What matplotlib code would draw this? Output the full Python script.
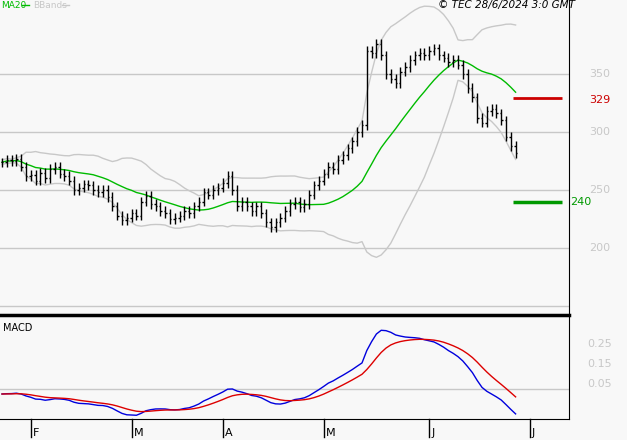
import numpy as np
import pandas as pd
import matplotlib
matplotlib.use("Agg")
import matplotlib.pyplot as plt

closes_jan = [274, 276, 275, 277, 270, 262]
closes_feb = [263, 258, 265, 260, 268, 270, 264, 262, 258, 250, 252, 255, 254, 250, 248, 250, 244, 236, 228, 224, 226]
closes_mar = [230, 228, 240, 245, 238, 236, 232, 230, 225, 226, 228, 232, 230, 236, 240, 248, 246, 250, 252]
closes_apr = [256, 262, 250, 236, 240, 236, 232, 236, 230, 222, 218, 222, 226, 232, 238, 240, 235, 238, 246, 254, 258]
closes_may = [264, 270, 268, 276, 280, 286, 292, 300, 306, 370, 368, 376, 366, 350, 346, 342, 352, 356, 362, 366, 368, 366]
closes_jun = [370, 372, 366, 364, 360, 362, 358, 350, 338, 330, 312, 308, 318, 320, 316, 310, 296, 288, 282]
month_labels = ["F", "M", "A", "M", "J", "J"]
price_ticks = [350, 300, 250, 200]
macd_ticks = [0.25, 0.15, 0.05]
resistance = 329
support = 240

closes = np.array(closes_jan + closes_feb + closes_mar + closes_apr + closes_may + closes_jun, float)
n = len(closes)
x = np.arange(n)
month_starts = np.cumsum([len(closes_jan), len(closes_feb), len(closes_mar), len(closes_apr), len(closes_may), len(closes_jun)])
month_starts = list(month_starts[:-1]) + [n + 2]

opens = np.concatenate([[closes[0]], closes[:-1]])
highs = np.maximum(opens, closes) + 4
lows = np.minimum(opens, closes) - 4

s = pd.Series(closes)
ma = s.rolling(20, min_periods=1).mean()
sd = s.rolling(20, min_periods=2).std(ddof=0).bfill()
up, lo = ma + 2 * sd, ma - 2 * sd
ema12 = s.ewm(span=12, adjust=False).mean()
ema26 = s.ewm(span=26, adjust=False).mean()
macd = (ema12 - ema26) / 100.0
sig = macd.ewm(span=9, adjust=False).mean()

W, H = 627, 440
fig = plt.figure(figsize=(W / 100, H / 100), dpi=100)
fig.patch.set_facecolor("#f8f8f8")
px = 4.8
x0 = -2 / px
x1 = 567 / px
ax = fig.add_axes([0, 1 - 315 / H, 569 / W, 315 / H])
ax2 = fig.add_axes([0, 1 - 419 / H, 569 / W, 104 / H])
for a in (ax, ax2):
    a.set_facecolor("#f8f8f8")
    a.set_xlim(x0, x1)
    a.set_xticks([])
    a.set_yticks([])
    for sp in a.spines.values():
        sp.set_visible(False)
    a.spines["right"].set_visible(True)
    a.spines["right"].set_color("black")

def p2y(y):
    return 350 - (y - 74) * 50 / 58

ax.set_ylim(p2y(315), p2y(0))
for v in price_ticks + [150]:
    ax.axhline(v, color="#c8c8c8", lw=1, zorder=0)
for v in price_ticks:
    fig.text(600 / W, 1 - (74 + (350 - v) * 58 / 50) / H, str(v), color="#c8c8c8", fontsize=8, ha="center", va="center")

ax.plot(x, up, color="#c8c8c8", lw=1)
ax.plot(x, lo, color="#c8c8c8", lw=1)
ax.plot(x, ma, color="#00bb00", lw=1)
ax.vlines(x, lows, highs, color="black", lw=1)
ax.hlines(opens, x - 0.3, x, color="black", lw=1)
ax.hlines(closes, x, x + 0.3, color="black", lw=1)

xr0, xr1 = (513 - 2) / px, (562 - 2) / px
ax.hlines(resistance, xr0, xr1, color="#cc0000", lw=2)
ax.hlines(support, xr0, xr1, color="#009900", lw=2.5)
fig.text(600 / W, 1 - 100 / H, str(resistance), color="#cc0000", fontsize=8, ha="center", va="center")
fig.text(570 / W, 1 - 202 / H, str(support), color="#009900", fontsize=8, ha="left", va="center")

fig.text(1 / W, 1 - 5 / H, "MA20", color="#00bb00", fontsize=6.5, va="center")
fig.add_artist(plt.Line2D([22 / W, 29 / W], [1 - 5 / H] * 2, color="#00bb00", lw=1))
fig.text(33 / W, 1 - 5 / H, "BBands", color="#c8c8c8", fontsize=6.5, va="center")
fig.add_artist(plt.Line2D([62 / W, 69 / W], [1 - 5 / H] * 2, color="#c8c8c8", lw=1))
fig.text(575 / W, 1 - 5 / H, "© TEC 28/6/2024 3:0 GMT", color="black", fontsize=7.5, style="italic", ha="right", va="center")

def m2v(y):
    return 0.05 + (384 - y) / 200

ax2.set_ylim(m2v(104 + 315), m2v(315))
ax2.axhline(m2v(389), color="#c8c8c8", lw=1)
ax2.plot(x, macd, color="#0000dd", lw=1)
ax2.plot(x, sig, color="#dd0000", lw=1)
ax2.spines["top"].set_visible(True)
ax2.spines["top"].set_linewidth(2.5)
ax2.spines["bottom"].set_visible(True)
ax2.spines["top"].set_color("black")
ax2.spines["bottom"].set_color("black")
ax2.text(3 / 569, 1 - 13 / 104, "MACD", transform=ax2.transAxes, fontsize=7, va="center")
for v in macd_ticks:
    fig.text(600 / W, 1 - (384 - (v - 0.05) * 200) / H, f"{v:.2f}", color="#c8c8c8", fontsize=8, ha="center", va="center")

for i, lab in zip(month_starts, month_labels):
    xp = (2 + i * px) / W
    fig.add_artist(plt.Line2D([xp, xp], [1 - 419 / H, 1 - 437 / H], color="black", lw=1))
    fig.text(xp + 2 / W, 1 - 433 / H, lab, fontsize=8, ha="left", va="center")

fig.savefig("out.png", dpi=100, facecolor=fig.get_facecolor())
